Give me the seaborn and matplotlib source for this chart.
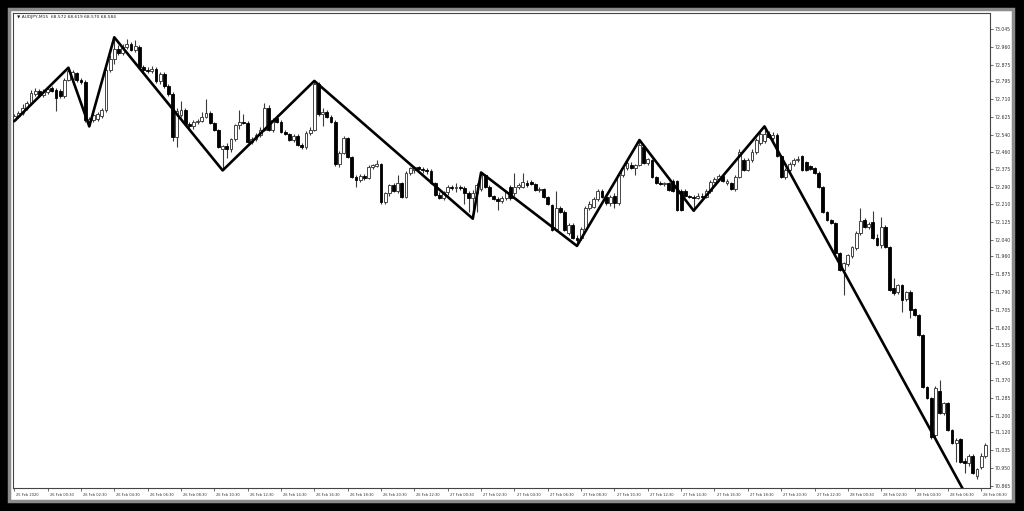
import numpy as np
import pandas as pd
import matplotlib
matplotlib.use("Agg")
import matplotlib.pyplot as plt
import matplotlib.transforms as mtransforms
from matplotlib.patches import Rectangle
import seaborn as sns

# AUDJPY M15 candles, 25 Feb 22:30 -> 28 Feb 08:45
opens = [
    72.610, 72.630, 72.645, 72.670, 72.690, 72.735, 72.750, 72.730, 72.745, 72.765,
    72.755, 72.750, 72.725, 72.800, 72.805, 72.835, 72.800, 72.790, 72.605, 72.610,
    72.615, 72.630, 72.660, 72.850, 72.900, 72.950, 72.930, 72.960, 72.975, 72.945,
    72.960, 72.865, 72.850, 72.845, 72.855, 72.795, 72.830, 72.775, 72.735, 72.530,
    72.635, 72.660, 72.590, 72.580, 72.600, 72.605, 72.625, 72.645, 72.595, 72.565,
    72.470, 72.485, 72.470, 72.520, 72.585, 72.600, 72.595, 72.505, 72.520, 72.540,
    72.565, 72.670, 72.565, 72.620, 72.600, 72.555, 72.545, 72.515, 72.535, 72.490,
    72.480, 72.550, 72.565, 72.780, 72.640, 72.650, 72.625, 72.600, 72.400, 72.455,
    72.525, 72.435, 72.340, 72.325, 72.345, 72.335, 72.385, 72.390, 72.400, 72.220,
    72.260, 72.300, 72.270, 72.310, 72.245, 72.360, 72.370, 72.385, 72.375, 72.370,
    72.365, 72.310, 72.255, 72.240, 72.265, 72.290, 72.285, 72.290, 72.285, 72.260,
    72.240, 72.260, 72.280, 72.350, 72.290, 72.250, 72.235, 72.225, 72.240, 72.290,
    72.260, 72.290, 72.290, 72.310, 72.315, 72.305, 72.275, 72.280, 72.245, 72.205,
    72.090, 72.190, 72.170, 72.070, 72.110, 72.050, 72.050, 72.090, 72.190, 72.195,
    72.235, 72.270, 72.245, 72.215, 72.250, 72.215, 72.350, 72.380, 72.395, 72.380,
    72.395, 72.480, 72.405, 72.420, 72.340, 72.310, 72.305, 72.310, 72.320, 72.320,
    72.270, 72.270, 72.250, 72.245, 72.240, 72.250, 72.245, 72.270, 72.315, 72.330,
    72.345, 72.310, 72.310, 72.280, 72.340, 72.420, 72.370, 72.420, 72.460, 72.500,
    72.510, 72.545, 72.525, 72.540, 72.440, 72.340, 72.370, 72.400, 72.420, 72.440,
    72.410, 72.390, 72.380, 72.360, 72.290, 72.170, 72.135, 72.120, 71.975, 71.895,
    71.925, 71.960, 72.000, 72.070, 72.135, 72.100, 72.125, 72.050, 72.015, 72.100,
    72.005, 71.810, 71.790, 71.825, 71.755, 71.790, 71.710, 71.680, 71.585, 71.335,
    71.285, 71.110, 71.320, 71.215, 71.260, 71.130, 71.070, 71.090, 70.985, 70.975,
    71.010, 70.910, 70.955, 71.010,
]
highs = [
    72.640, 72.655, 72.685, 72.700, 72.755, 72.765, 72.760, 72.760, 72.775, 72.775,
    72.765, 72.760, 72.810, 72.860, 72.850, 72.840, 72.810, 72.800, 72.625, 72.640,
    72.650, 72.670, 72.860, 72.920, 73.005, 72.970, 72.975, 72.995, 72.985, 72.990,
    72.970, 72.875, 72.865, 72.870, 72.865, 72.840, 72.840, 72.780, 72.745, 72.670,
    72.700, 72.670, 72.600, 72.610, 72.615, 72.650, 72.710, 72.655, 72.600, 72.570,
    72.490, 72.500, 72.525, 72.590, 72.660, 72.640, 72.605, 72.530, 72.550, 72.575,
    72.690, 72.680, 72.620, 72.635, 72.610, 72.565, 72.550, 72.545, 72.545, 72.500,
    72.560, 72.575, 72.797, 72.790, 72.670, 72.660, 72.635, 72.610, 72.465, 72.535,
    72.530, 72.440, 72.350, 72.355, 72.355, 72.395, 72.400, 72.420, 72.405, 72.265,
    72.305, 72.310, 72.350, 72.315, 72.365, 72.385, 72.390, 72.390, 72.385, 72.380,
    72.375, 72.315, 72.265, 72.270, 72.300, 72.300, 72.310, 72.300, 72.295, 72.270,
    72.275, 72.310, 72.360, 72.355, 72.300, 72.255, 72.245, 72.250, 72.270, 72.300,
    72.360, 72.310, 72.360, 72.325, 72.325, 72.310, 72.290, 72.285, 72.250, 72.210,
    72.270, 72.200, 72.180, 72.120, 72.120, 72.060, 72.100, 72.200, 72.225, 72.245,
    72.280, 72.280, 72.255, 72.255, 72.260, 72.360, 72.390, 72.420, 72.410, 72.400,
    72.515, 72.490, 72.430, 72.425, 72.345, 72.320, 72.315, 72.315, 72.330, 72.325,
    72.280, 72.280, 72.255, 72.255, 72.260, 72.260, 72.280, 72.325, 72.340, 72.355,
    72.350, 72.330, 72.315, 72.350, 72.470, 72.430, 72.430, 72.470, 72.525, 72.555,
    72.580, 72.560, 72.555, 72.550, 72.445, 72.380, 72.410, 72.430, 72.440, 72.445,
    72.415, 72.395, 72.385, 72.365, 72.295, 72.175, 72.140, 72.125, 71.980, 71.935,
    71.970, 72.010, 72.080, 72.190, 72.145, 72.125, 72.175, 72.065, 72.150, 72.110,
    72.010, 71.855, 71.830, 71.830, 71.795, 71.800, 71.715, 71.685, 71.590, 71.340,
    71.290, 71.340, 71.370, 71.265, 71.265, 71.135, 71.095, 71.095, 71.000, 71.015,
    71.015, 70.950, 71.020, 71.070,
]
lows = [
    72.605, 72.620, 72.635, 72.660, 72.680, 72.725, 72.720, 72.720, 72.735, 72.745,
    72.655, 72.715, 72.715, 72.795, 72.800, 72.790, 72.780, 72.600, 72.580, 72.600,
    72.605, 72.620, 72.650, 72.840, 72.880, 72.920, 72.920, 72.950, 72.940, 72.935,
    72.855, 72.840, 72.835, 72.835, 72.785, 72.780, 72.765, 72.725, 72.510, 72.480,
    72.625, 72.585, 72.570, 72.570, 72.590, 72.600, 72.620, 72.590, 72.560, 72.475,
    72.370, 72.430, 72.460, 72.510, 72.570, 72.590, 72.500, 72.495, 72.510, 72.530,
    72.560, 72.560, 72.555, 72.595, 72.550, 72.540, 72.510, 72.505, 72.485, 72.470,
    72.470, 72.540, 72.560, 72.630, 72.580, 72.620, 72.595, 72.390, 72.385, 72.450,
    72.430, 72.335, 72.290, 72.315, 72.325, 72.330, 72.375, 72.385, 72.210, 72.210,
    72.250, 72.265, 72.260, 72.240, 72.240, 72.350, 72.360, 72.370, 72.360, 72.355,
    72.305, 72.250, 72.235, 72.230, 72.255, 72.275, 72.265, 72.275, 72.210, 72.170,
    72.140, 72.170, 72.270, 72.285, 72.245, 72.230, 72.180, 72.215, 72.230, 72.230,
    72.250, 72.280, 72.285, 72.290, 72.300, 72.270, 72.265, 72.240, 72.205, 72.080,
    72.085, 72.165, 72.080, 72.060, 72.045, 72.010, 72.040, 72.085, 72.180, 72.190,
    72.225, 72.240, 72.205, 72.200, 72.190, 72.205, 72.340, 72.370, 72.375, 72.350,
    72.390, 72.400, 72.395, 72.335, 72.305, 72.300, 72.295, 72.270, 72.265, 72.175,
    72.175, 72.245, 72.240, 72.178, 72.235, 72.240, 72.240, 72.260, 72.310, 72.320,
    72.315, 72.300, 72.275, 72.270, 72.335, 72.365, 72.365, 72.410, 72.450, 72.490,
    72.500, 72.525, 72.515, 72.435, 72.335, 72.330, 72.360, 72.390, 72.410, 72.365,
    72.365, 72.370, 72.355, 72.285, 72.165, 72.130, 72.115, 71.970, 71.890, 71.776,
    71.915, 71.950, 71.990, 72.060, 72.095, 72.090, 72.045, 72.010, 72.000, 72.000,
    71.795, 71.775, 71.780, 71.695, 71.745, 71.665, 71.675, 71.580, 71.330, 71.280,
    71.090, 71.100, 71.210, 71.205, 71.125, 71.065, 70.980, 70.975, 70.925, 70.960,
    70.920, 70.900, 70.945, 71.000,
]
closes = [
    72.630, 72.645, 72.670, 72.690, 72.740, 72.750, 72.730, 72.745, 72.760, 72.750,
    72.715, 72.725, 72.800, 72.845, 72.840, 72.800, 72.790, 72.610, 72.615, 72.635,
    72.640, 72.660, 72.850, 72.900, 72.950, 72.930, 72.960, 72.975, 72.945, 72.965,
    72.865, 72.850, 72.845, 72.855, 72.795, 72.830, 72.775, 72.735, 72.530, 72.655,
    72.660, 72.590, 72.580, 72.600, 72.605, 72.625, 72.645, 72.595, 72.565, 72.480,
    72.485, 72.470, 72.520, 72.585, 72.600, 72.595, 72.505, 72.520, 72.540, 72.565,
    72.670, 72.565, 72.610, 72.600, 72.555, 72.545, 72.515, 72.535, 72.490, 72.480,
    72.550, 72.565, 72.780, 72.640, 72.650, 72.625, 72.600, 72.400, 72.455, 72.525,
    72.435, 72.340, 72.325, 72.345, 72.335, 72.385, 72.395, 72.400, 72.220, 72.260,
    72.300, 72.270, 72.310, 72.245, 72.360, 72.380, 72.385, 72.375, 72.370, 72.365,
    72.310, 72.255, 72.240, 72.265, 72.290, 72.285, 72.290, 72.285, 72.260, 72.240,
    72.260, 72.300, 72.350, 72.290, 72.250, 72.235, 72.225, 72.240, 72.265, 72.240,
    72.290, 72.300, 72.315, 72.300, 72.305, 72.275, 72.280, 72.245, 72.210, 72.085,
    72.190, 72.170, 72.085, 72.110, 72.050, 72.040, 72.090, 72.190, 72.210, 72.235,
    72.270, 72.245, 72.215, 72.245, 72.215, 72.350, 72.380, 72.405, 72.380, 72.395,
    72.490, 72.405, 72.425, 72.340, 72.310, 72.305, 72.310, 72.275, 72.270, 72.180,
    72.180, 72.250, 72.245, 72.240, 72.250, 72.245, 72.270, 72.315, 72.330, 72.345,
    72.320, 72.320, 72.280, 72.340, 72.460, 72.370, 72.420, 72.460, 72.515, 72.545,
    72.545, 72.530, 72.540, 72.440, 72.340, 72.370, 72.400, 72.420, 72.425, 72.370,
    72.370, 72.375, 72.360, 72.290, 72.170, 72.135, 72.120, 71.975, 71.895, 71.930,
    71.965, 72.005, 72.070, 72.130, 72.100, 72.115, 72.050, 72.015, 72.100, 72.005,
    71.800, 71.785, 71.825, 71.750, 71.790, 71.705, 71.680, 71.585, 71.335, 71.285,
    71.100, 71.330, 71.215, 71.260, 71.130, 71.070, 71.085, 70.980, 70.975, 71.010,
    70.925, 70.945, 71.010, 71.060,
]

# zigzag indicator vertices (bar index, price)
zz_bars = [0, 13, 18, 24, 50, 72, 110, 112, 135, 150, 163, 180, 228]
zz_prices = [72.605, 72.860, 72.580, 73.005, 72.370, 72.797, 72.140, 72.360,
             72.010, 72.515, 72.178, 72.580, 70.835]

price_ticks = [73.045, 72.960, 72.875, 72.795, 72.710, 72.625, 72.540, 72.460,
               72.375, 72.290, 72.210, 72.125, 72.040, 71.960, 71.875, 71.790,
               71.705, 71.620, 71.535, 71.450, 71.370, 71.285, 71.200, 71.120,
               71.035, 70.950, 70.865]

time_labels = [
    "25 Feb 2020", "26 Feb 00:30", "26 Feb 02:30", "26 Feb 04:30", "26 Feb 06:30",
    "26 Feb 08:30", "26 Feb 10:30", "26 Feb 12:30", "26 Feb 14:30", "26 Feb 16:30",
    "26 Feb 18:30", "26 Feb 20:30", "26 Feb 22:30", "27 Feb 00:30", "27 Feb 02:30",
    "27 Feb 04:30", "27 Feb 06:30", "27 Feb 08:30", "27 Feb 10:30", "27 Feb 12:30",
    "27 Feb 14:30", "27 Feb 16:30", "27 Feb 18:30", "27 Feb 20:30", "27 Feb 22:30",
    "28 Feb 00:30", "28 Feb 02:30", "28 Feb 04:30", "28 Feb 06:30", "28 Feb 08:30",
]
label_step = 8  # one label every 8 bars (2 hours of M15)

title = "\u25bc AUDJPY,M15  68.572 68.619 68.570 68.584"

sns.set_style("white")
plt.rcParams["font.family"] = ["DejaVu Sans"]

df = pd.DataFrame({"open": opens, "high": highs, "low": lows, "close": closes})
df["bar"] = np.arange(len(df))
df["body"] = (df["close"] - df["open"]).abs().clip(lower=0.002)
df["bottom"] = df[["open", "close"]].min(axis=1)
up = df[df["close"] >= df["open"]]
dn = df[df["close"] < df["open"]]

fig = plt.figure(figsize=(10.24, 5.11), dpi=100)
fig.patch.set_facecolor("black")
panel = Rectangle((9 / 1024, 1 - 501 / 511), 1004 / 1024, 492 / 511,
                  transform=fig.transFigure, facecolor="white",
                  edgecolor="#8c8c8c", lw=2.5, zorder=-10)
fig.add_artist(panel)

ax = fig.add_axes([13 / 1024, 1 - 488 / 511, 977 / 1024, 475 / 511])
ax.set_zorder(5)
ax.set_facecolor("white")

# wicks
ax.vlines(df["bar"], df["low"], df["high"], color="#3a3a3a", lw=0.8, zorder=2)
# bodies
ax.bar(up["bar"], up["body"], bottom=up["bottom"], width=0.68,
       color="white", edgecolor="#3a3a3a", lw=0.65, zorder=3)
ax.bar(dn["bar"], dn["body"], bottom=dn["bottom"], width=0.68,
       color="black", edgecolor="black", lw=0.6, zorder=3)

# zigzag
sns.lineplot(x=zz_bars, y=zz_prices, ax=ax, color="black", lw=1.9,
             sort=False, zorder=4)

ax.set_xlim(-0.3, 234.1)
ax.set_ylim(70.855, 73.121)
ax.set_xlabel("")
ax.set_ylabel("")

ax.yaxis.tick_right()
ax.set_yticks(price_ticks)
ax.set_yticklabels([f"{v:.3f}" for v in price_ticks])
ax.tick_params(axis="y", direction="out", length=2.5, width=0.5,
               pad=1.2, labelsize=3.3, colors="#333333", right=True, left=False)

ax.set_xticks(np.arange(len(time_labels)) * label_step)
ax.set_xticklabels(time_labels)
ax.tick_params(axis="x", direction="out", length=2.5, width=0.5,
               pad=0.8, labelsize=2.6, colors="#333333", bottom=True)
shift = mtransforms.ScaledTranslation(1.5 / 72, 0, fig.dpi_scale_trans)
for lab in ax.get_xticklabels():
    lab.set_horizontalalignment("left")
    lab.set_transform(lab.get_transform() + shift)

for sp in ax.spines.values():
    sp.set_color("#444444")
    sp.set_linewidth(0.8)

ax.text(0.004, 0.996, title, transform=ax.transAxes, fontsize=3.2,
        va="top", ha="left", color="#222222")

fig.savefig("out.png", dpi=100, facecolor="black")
